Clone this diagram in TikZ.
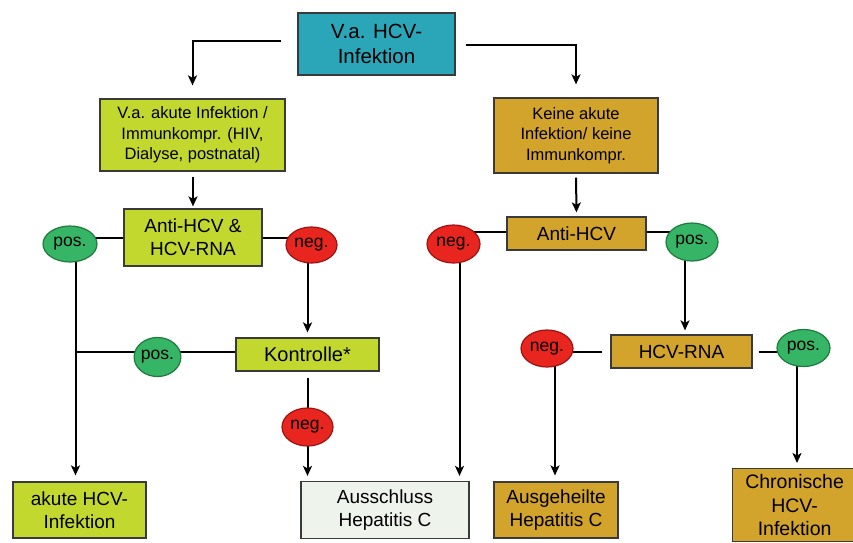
\documentclass[tikz,border=0pt]{standalone}
\usepackage{fontspec}
\setmainfont{Liberation Sans}
\usetikzlibrary{arrows.meta,shapes.geometric,backgrounds}

\definecolor{teal}{HTML}{2BA6B8}
\definecolor{lime}{HTML}{C3D82E}
\definecolor{ochre}{HTML}{D3A42B}
\definecolor{pale}{HTML}{EEF3EC}
\definecolor{okgreen}{HTML}{35B565}
\definecolor{okgreenD}{HTML}{1F7A3E}
\definecolor{badred}{HTML}{E8251F}
\definecolor{badredD}{HTML}{9A1512}
\definecolor{frame}{HTML}{3A3A3A}

\tikzset{
  box/.style={draw=frame, line width=1.2pt, inner sep=0pt, align=center,
              font=\fontsize{19}{23}\selectfont},
  smalltxt/.style={font=\fontsize{16.5}{20.5}\selectfont},
  posnode/.style={ellipse, draw=okgreenD, fill=okgreen, line width=1.2pt,
                  inner sep=0pt, font=\fontsize{17.5}{17.5}\selectfont},
  negnode/.style={ellipse, draw=badredD, fill=badred, line width=1.2pt,
                  inner sep=0pt, font=\fontsize{17.5}{17.5}\selectfont},
  link/.style={draw=black, line width=2pt},
  arr/.style={link, -{Stealth[length=10pt,width=9pt,inset=2.5pt]}},
}

\begin{document}
\begin{tikzpicture}[x=1pt,y=-1pt]
\clip (0,0) rectangle (853,542);
\useasboundingbox (0,0) rectangle (853,542);

% ---- boxes ----
\node[box, fill=teal, minimum width=157pt, minimum height=62pt,
      font=\fontsize{20.5}{25}\selectfont] (top) at (376.5,44) {V.a. HCV-\\Infektion};

\node[box, smalltxt, fill=lime, minimum width=185pt, minimum height=72pt] (akut) at (192.5,135)
  {V.a. akute Infektion /\\Immunkompr. (HIV,\\Dialyse, postnatal)};
\node[box, smalltxt, fill=ochre, minimum width=164pt, minimum height=75pt] (keine) at (576,135.5)
  {Keine akute\\Infektion/ keine\\Immunkompr.};

\node[box, fill=lime, minimum width=138pt, minimum height=57pt] (ah) at (193,237.5)
  {Anti-HCV \&\\HCV-RNA};
\node[box, fill=ochre, minimum width=139pt, minimum height=33pt] (anti) at (576.5,233.5) {Anti-HCV};

\node[box, fill=lime, minimum width=143pt, minimum height=33pt,
      font=\fontsize{20}{24}\selectfont] (kontr) at (307.5,354.5) {Kontrolle*};
\node[box, fill=ochre, minimum width=141pt, minimum height=33pt] (rna) at (681.5,351.5) {HCV-RNA};

\node[box, fill=lime, minimum width=133pt, minimum height=56pt] (akuteHCV) at (79.5,510)
  {akute HCV-\\Infektion};
\node[box, fill=pale, minimum width=168pt, minimum height=57pt] (aussch) at (385,510)
  {Ausschluss\\Hepatitis C};
\node[box, fill=ochre, minimum width=124pt, minimum height=56pt] (ausgeh) at (556,510)
  {Ausgeheilte\\Hepatitis C};
\node[box, fill=ochre, minimum width=124pt, minimum height=73pt, anchor=north west,
      font=\fontsize{19.5}{23.5}\selectfont] (chron) at (732,468)
  {Chronische\\HCV-\\Infektion};

% ---- result ellipses ----
\node[posnode, minimum width=54pt, minimum height=36pt] (posA) at (70,244) {pos.};
\node[negnode, minimum width=51pt, minimum height=36pt] (negA) at (311.5,245) {neg.};
\node[posnode, minimum width=46pt, minimum height=39pt] (posK) at (157.5,357) {pos.};
\node[negnode, minimum width=51pt, minimum height=38pt] (negK) at (307.5,427) {neg.};
\node[negnode, minimum width=53pt, minimum height=38pt] (negB) at (453.5,244) {neg.};
\node[posnode, minimum width=52pt, minimum height=38pt] (posB) at (692,242) {pos.};
\node[negnode, minimum width=52pt, minimum height=37pt] (negC) at (547,348.5) {neg.};
\node[posnode, minimum width=53pt, minimum height=37pt] (posC) at (803.5,348) {pos.};

% drop points of the vertical result lines
\coordinate (dA) at ([xshift=5.5pt]posA.center);
\coordinate (dB) at ([xshift=6pt]negB.center);
\coordinate (dP) at ([xshift=-7pt]posB.center);
\coordinate (dC) at ([xshift=8pt]negC.center);
\coordinate (dR) at ([xshift=-6.5pt]posC.center);

% ---- connectors (behind the shapes) ----
\begin{scope}[on background layer]
  % from the suspicion to the two branches
  \draw[arr, shorten <=16pt, shorten >=13pt] ([yshift=3pt]top.west) -| (akut.north);
  \draw[arr, shorten <=10pt, shorten >=13pt] ([yshift=-1pt]top.east) -| (keine.north);

  \draw[arr, shorten <=5pt, shorten >=2pt] (akut.south -| ah.north) -- (ah.north);
  \draw[arr, shorten <=4pt, shorten >=4pt] (keine.south) -- (anti.north);

  % left branch
  \draw[link] (ah.west) -- (ah.west -| posA);
  \draw[link] (ah.east) -- (ah.east -| negA);
  \draw[arr, shorten >=6pt] (dA) -- (dA |- akuteHCV.north);
  \draw[arr, shorten >=5pt] (negA.center -| kontr.north) -- (kontr.north);
  \draw[link] ([yshift=2.5pt]kontr.west) -- ([yshift=2.5pt]kontr.west -| dA);
  \draw[link, shorten <=6pt] (kontr.south) -- (negK.center);
  \draw[arr, shorten >=5pt] (negK.center) -- (negK.center |- aussch.north);

  % right branch
  \draw[link] ([yshift=2pt]anti.west) -- ([yshift=2pt]anti.west -| negB);
  \draw[link] ([yshift=2pt]anti.east) -- ([yshift=2pt]anti.east -| posB);
  \draw[arr, shorten >=5pt] (dB) -- (dB |- aussch.north);
  \draw[arr, shorten >=4pt] (dP) -- (dP |- rna.north);
  \draw[link, shorten <=8pt] (rna.west) -- (rna.west -| negC);
  \draw[link, shorten <=6pt] (rna.east) -- (rna.east -| posC);
  \draw[arr, shorten >=6pt] (dC) -- (dC |- ausgeh.north);
  \draw[arr, shorten >=5pt] (dR) -- (dR |- chron.north);
\end{scope}
\end{tikzpicture}
\end{document}
